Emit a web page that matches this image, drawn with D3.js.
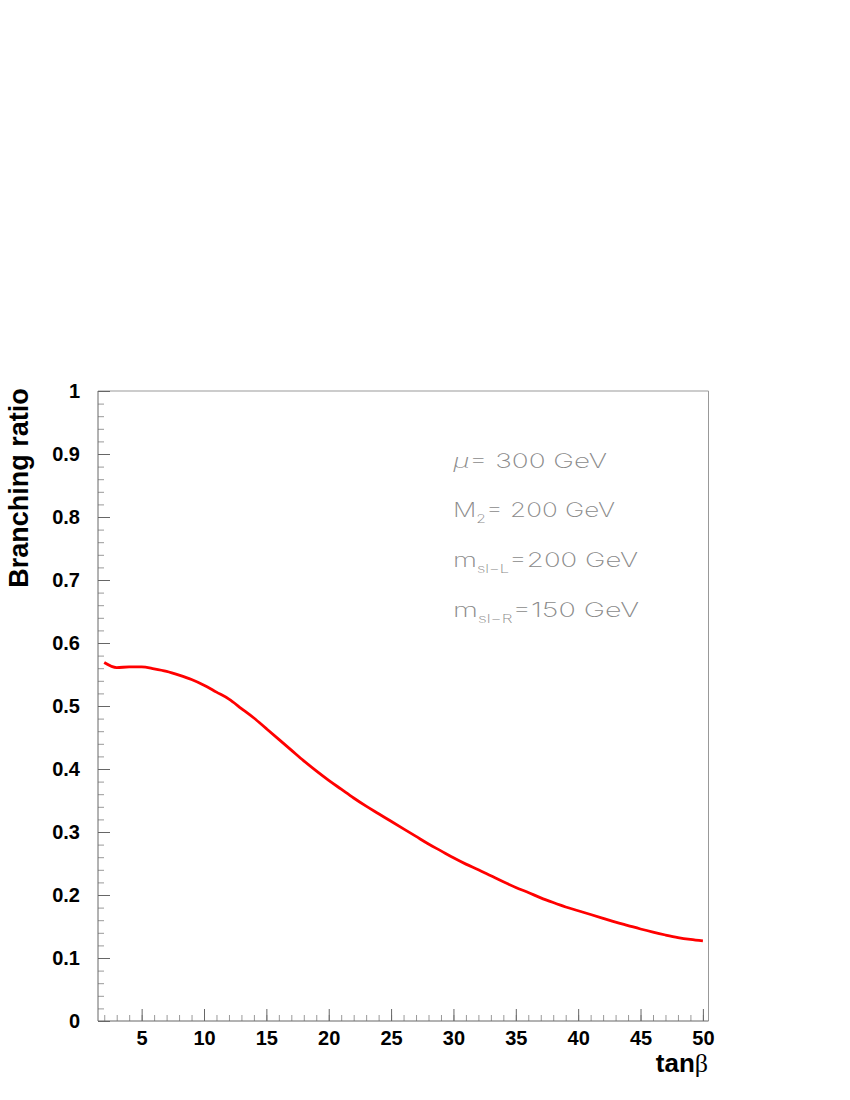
<!DOCTYPE html>
<html>
<head>
<meta charset="utf-8">
<script src="https://cdn.jsdelivr.net/npm/d3@7"></script>
<style>
  body { margin: 0; background: #fff; }
  svg { display: block; }
</style>
</head>
<body>
<svg id="chart" width="850" height="1100"></svg>
<script>
// ---- data ----
const tanBeta = [2,3,4,5,6,7,8,9,10,11,12,13,14,15,16,17,18,19,20,21,22,23,24,25,26,27,28,29,30,31,32,33,34,35,36,37,38,39,40,41,42,43,44,45,46,47,48,49,50];
const branchingRatio = [0.569,0.561,0.562,0.562,0.559,0.555,0.549,0.542,0.533,0.522,0.511,0.496,0.481,0.464,0.447,0.430,0.413,0.397,0.382,0.368,0.354,0.341,0.329,0.317,0.305,0.293,0.281,0.270,0.259,0.249,0.240,0.2305,0.221,0.212,0.204,0.1955,0.188,0.181,0.175,0.169,0.163,0.157,0.1515,0.146,0.141,0.1365,0.1325,0.1295,0.1272];
const xMajorTicks = [5,10,15,20,25,30,35,40,45,50];
const xMinorTicks = d3.range(2, 51, 1);
const yMajorTicks = [0,0.1,0.2,0.3,0.4,0.5,0.6,0.7,0.8,0.9,1];
const yMinorTicks = d3.range(0, 1.0001, 0.02);
const xTitle = "tan";
const xTitleSymbol = "β";
const yTitle = "Branching ratio";
const annotations = [
  { main: "μ", rest: "= 300 GeV" },
  { main: "M", sub: "2", rest: "= 200 GeV" },
  { main: "m", sub: "sl−L", rest: "=200 GeV" },
  { main: "m", sub: "sl−R", rest: "=150 GeV" }
];

// ---- layout ----
const svg = d3.select("#chart");
const L = 98, R = 708.5, T = 391, B = 1021;
const x = d3.scaleLinear().domain([1.5, 50.45]).range([L, R]);
const y = d3.scaleLinear().domain([0, 1]).range([B, T]);

const axisColor = "#666";
const frameColor = "#999";
const boldFont = "'Liberation Sans', Arial, Helvetica, sans-serif";

// frame (top/right)
svg.append("line").attr("x1", L).attr("x2", R).attr("y1", T).attr("y2", T)
  .attr("stroke", frameColor).attr("stroke-width", 1);
svg.append("line").attr("x1", R).attr("x2", R).attr("y1", T).attr("y2", B)
  .attr("stroke", frameColor).attr("stroke-width", 1);

// x minor ticks
svg.append("g").attr("transform", `translate(0,${B})`)
  .call(d3.axisBottom(x).tickValues(xMinorTicks).tickSize(-6).tickFormat(""))
  .call(g => g.select(".domain").remove())
  .call(g => g.selectAll("line").attr("stroke", frameColor));

// x major ticks + labels
const xAxis = svg.append("g").attr("transform", `translate(0,${B})`)
  .call(d3.axisBottom(x).tickValues(xMajorTicks).tickSize(-12).tickPadding(10).tickFormat(d3.format("d")));
xAxis.select(".domain").attr("stroke", axisColor).attr("d", `M${L},0H${R}`);
xAxis.selectAll("line").attr("stroke", axisColor);
xAxis.selectAll("text").attr("font-family", boldFont)
  .attr("font-weight", "bold").attr("font-size", 20).attr("fill", "#000");

// y minor ticks
svg.append("g").attr("transform", `translate(${L},0)`)
  .call(d3.axisLeft(y).tickValues(yMinorTicks).tickSize(-6).tickFormat(""))
  .call(g => g.select(".domain").remove())
  .call(g => g.selectAll("line").attr("stroke", frameColor));

// y major ticks + labels
const yAxis = svg.append("g").attr("transform", `translate(${L},0)`)
  .call(d3.axisLeft(y).tickValues(yMajorTicks).tickSize(-12).tickPadding(18).tickFormat(d => d === 0 ? "0" : d === 1 ? "1" : d3.format(".1f")(d)));
yAxis.select(".domain").attr("stroke", axisColor).attr("d", `M0,${B}V${T}`);
yAxis.selectAll("line").attr("stroke", axisColor);
yAxis.selectAll("text").attr("font-family", boldFont)
  .attr("font-weight", "bold").attr("font-size", 20).attr("fill", "#000");

// axis titles
const xt = svg.append("text").attr("x", 708).attr("y", 1072)
  .attr("text-anchor", "end")
  .attr("font-family", boldFont)
  .attr("font-weight", "bold").attr("font-size", 26).attr("fill", "#000");
xt.append("tspan").text(xTitle);
xt.append("tspan").attr("font-family", "'Liberation Serif', 'DejaVu Serif', serif")
  .attr("font-weight", "normal").text(xTitleSymbol);

svg.append("text")
  .attr("transform", "translate(28,488) rotate(-90)")
  .attr("text-anchor", "middle")
  .attr("font-family", boldFont)
  .attr("font-weight", "bold").attr("font-size", 27).attr("fill", "#000")
  .text(yTitle);

// curve
const line = d3.line()
  .x((d, i) => x(tanBeta[i]))
  .y(d => y(d))
  .curve(d3.curveMonotoneX);
svg.append("path").datum(branchingRatio)
  .attr("d", line)
  .attr("fill", "none").attr("stroke", "#ff0000").attr("stroke-width", 2.8)
  .attr("stroke-linejoin", "round");

// annotations
const annY = [468, 517, 567, 617];
const annW = [154, 162, 185, 186];
annotations.forEach((a, i) => {
  const t = svg.append("text").attr("x", 453).attr("y", annY[i])
    .attr("font-family", "'DejaVu Sans ExtraLight', 'Inter', 'Liberation Sans', sans-serif")
    .attr("font-weight", 200).attr("font-size", 20).attr("fill", "#8a8a8a")
    .attr("textLength", annW[i]).attr("lengthAdjust", "spacingAndGlyphs");
  if (a.main === "μ") {
    t.append("tspan").attr("font-style", "italic").text("μ");
  } else {
    t.append("tspan").text(a.main);
  }
  if (a.sub) {
    t.append("tspan").attr("font-size", 12).attr("dy", 6).text(a.sub);
    t.append("tspan").attr("dy", -6).text(a.rest);
  } else {
    t.append("tspan").text(a.rest);
  }
});
</script>
</body>
</html>
